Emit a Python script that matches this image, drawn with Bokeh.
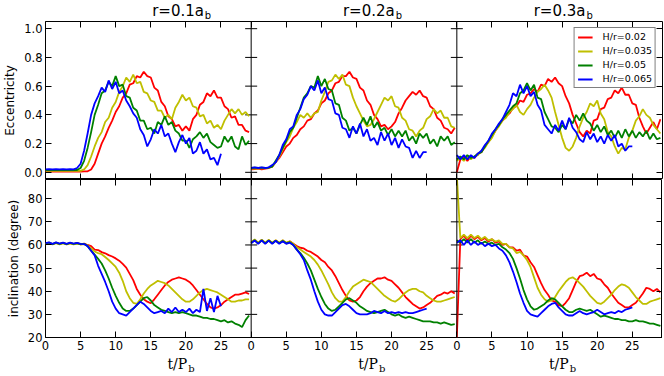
import numpy as np
from bokeh.plotting import figure
from bokeh.layouts import column
from bokeh.models import (Range1d, LinearAxis, FixedTicker, PrintfTickFormatter,
                          CustomJSTickFormatter, Label, Legend, LegendItem, Span)
from bokeh.embed import file_html
from bokeh.resources import INLINE

# ---------------- data ----------------
T = np.linspace(0, 29, 59)          # t / P_b, every 0.5

SERIES_LABELS = ["H/r=0.02", "H/r=0.035", "H/r=0.05", "H/r=0.065"]
SERIES_COLORS = ["#ff0000", "#bfbf00", "#008000", "#0000ff"]
RADII = ["r=0.1a", "r=0.2a", "r=0.3a"]
X_TICKS = [0, 5, 10, 15, 20, 25]
ECC_TICKS = [0.0, 0.2, 0.4, 0.6, 0.8, 1.0]
INC_TICKS = [20, 30, 40, 50, 60, 70, 80]

# eccentricity, r = 0.1 a_b
ecc_r1_h020 = [0.005, 0.006, 0.005, 0.006, 0.005, 0.006, 0.005, 0.006, 0.005, 0.006,
               0.005, 0.006, 0.007, 0.02, 0.06, 0.13, 0.20, 0.25, 0.31, 0.36,
               0.42, 0.46, 0.52, 0.55, 0.61, 0.62, 0.67, 0.66, 0.70, 0.67,
               0.66, 0.59, 0.57, 0.49, 0.46, 0.39, 0.37, 0.32, 0.33, 0.29,
               0.32, 0.29, 0.37, 0.40, 0.47, 0.49, 0.55, 0.53, 0.57, 0.52,
               0.52, 0.46, 0.44, 0.38, 0.39, 0.33, 0.33, 0.29, 0.28]
ecc_r1_h035 = [0.010, 0.011, 0.010, 0.011, 0.010, 0.011, 0.010, 0.011, 0.010, 0.011,
               0.010, 0.02, 0.05, 0.11, 0.18, 0.24, 0.28, 0.35, 0.38, 0.45,
               0.49, 0.56, 0.60, 0.66, 0.63, 0.68, 0.62, 0.63, 0.56, 0.55,
               0.50, 0.49, 0.43, 0.43, 0.38, 0.40, 0.37, 0.45, 0.49, 0.54,
               0.50, 0.52, 0.46, 0.45, 0.39, 0.40, 0.34, 0.36, 0.31, 0.33,
               0.30, 0.36, 0.40, 0.44, 0.41, 0.44, 0.40, 0.42, 0.39]
ecc_r1_h050 = [0.015, 0.016, 0.015, 0.016, 0.015, 0.016, 0.015, 0.016, 0.015, 0.016,
               0.03, 0.08, 0.17, 0.28, 0.40, 0.47, 0.55, 0.57, 0.63, 0.60,
               0.67, 0.60, 0.61, 0.53, 0.52, 0.45, 0.43, 0.36, 0.36, 0.30,
               0.31, 0.27, 0.35, 0.33, 0.39, 0.33, 0.35, 0.29, 0.27, 0.22,
               0.22, 0.17, 0.23, 0.25, 0.28, 0.24, 0.27, 0.21, 0.19, 0.17,
               0.18, 0.25, 0.21, 0.25, 0.18, 0.16, 0.25, 0.19, 0.22]
ecc_r1_h065 = [0.020, 0.022, 0.020, 0.022, 0.020, 0.022, 0.020, 0.022, 0.020, 0.03,
               0.06, 0.15, 0.27, 0.40, 0.48, 0.53, 0.59, 0.56, 0.64, 0.58,
               0.63, 0.55, 0.57, 0.50, 0.46, 0.41, 0.38, 0.30, 0.26, 0.18,
               0.23, 0.30, 0.27, 0.33, 0.25, 0.27, 0.20, 0.14, 0.21, 0.26,
               0.20, 0.24, 0.13, 0.15, 0.21, 0.13, 0.16, 0.09, 0.10, 0.05,
               0.13]

# eccentricity, r = 0.2 a_b
ecc_r2_h020 = [0.020, 0.022, 0.025, 0.020, 0.025, 0.030, 0.040, 0.07, 0.10, 0.14,
               0.18, 0.20, 0.24, 0.26, 0.30, 0.32, 0.36, 0.37, 0.41, 0.43,
               0.48, 0.50, 0.55, 0.57, 0.62, 0.63, 0.67, 0.67, 0.70, 0.66,
               0.65, 0.59, 0.57, 0.50, 0.47, 0.40, 0.37, 0.32, 0.33, 0.30,
               0.32, 0.35, 0.41, 0.45, 0.50, 0.53, 0.56, 0.54, 0.57, 0.53,
               0.52, 0.46, 0.44, 0.38, 0.36, 0.31, 0.30, 0.27, 0.31]
ecc_r2_h035 = [0.025, 0.027, 0.025, 0.030, 0.028, 0.032, 0.04, 0.07, 0.11, 0.16,
               0.21, 0.25, 0.31, 0.35, 0.40, 0.38, 0.41, 0.38, 0.41, 0.42,
               0.50, 0.56, 0.63, 0.64, 0.68, 0.65, 0.68, 0.61, 0.60, 0.52,
               0.46, 0.41, 0.36, 0.32, 0.33, 0.37, 0.42, 0.47, 0.52, 0.50,
               0.53, 0.46, 0.45, 0.38, 0.36, 0.30, 0.29, 0.25, 0.29, 0.31,
               0.37, 0.39, 0.44, 0.41, 0.43, 0.38, 0.38, 0.32, 0.31]
ecc_r2_h050 = [0.030, 0.032, 0.030, 0.033, 0.030, 0.033, 0.04, 0.08, 0.12, 0.17,
               0.22, 0.28, 0.31, 0.38, 0.45, 0.52, 0.55, 0.60, 0.59, 0.67,
               0.60, 0.65, 0.58, 0.57, 0.48, 0.47, 0.38, 0.36, 0.29, 0.31,
               0.27, 0.33, 0.38, 0.33, 0.39, 0.31, 0.35, 0.29, 0.31, 0.26,
               0.30, 0.25, 0.29, 0.25, 0.29, 0.22, 0.25, 0.20, 0.27, 0.24,
               0.27, 0.20, 0.23, 0.18, 0.25, 0.22, 0.25, 0.19, 0.21]
ecc_r2_h065 = [0.030, 0.034, 0.030, 0.034, 0.030, 0.035, 0.05, 0.07, 0.12, 0.19,
               0.23, 0.30, 0.32, 0.40, 0.44, 0.51, 0.54, 0.60, 0.57, 0.64,
               0.55, 0.59, 0.51, 0.50, 0.41, 0.40, 0.31, 0.30, 0.24, 0.32,
               0.27, 0.34, 0.25, 0.30, 0.22, 0.24, 0.19, 0.28, 0.22, 0.27,
               0.19, 0.24, 0.17, 0.23, 0.18, 0.17, 0.10, 0.15, 0.10, 0.14,
               0.14]

# eccentricity, r = 0.3 a_b
ecc_r3_h020 = [0.0, 0.09, 0.11, 0.08, 0.11, 0.10, 0.13, 0.14, 0.18, 0.21,
               0.25, 0.29, 0.33, 0.36, 0.39, 0.41, 0.45, 0.46, 0.50, 0.49,
               0.54, 0.55, 0.58, 0.56, 0.61, 0.60, 0.65, 0.63, 0.66, 0.62,
               0.60, 0.53, 0.48, 0.40, 0.34, 0.28, 0.25, 0.29, 0.27, 0.36,
               0.37, 0.44, 0.45, 0.51, 0.52, 0.57, 0.55, 0.59, 0.54, 0.54,
               0.48, 0.47, 0.38, 0.32, 0.27, 0.31, 0.35, 0.30, 0.37]
ecc_r3_h035 = [0.08, 0.10, 0.08, 0.11, 0.09, 0.11, 0.12, 0.15, 0.17, 0.21,
               0.24, 0.29, 0.32, 0.36, 0.38, 0.42, 0.44, 0.47, 0.42, 0.40,
               0.44, 0.47, 0.52, 0.56, 0.58, 0.61, 0.57, 0.52, 0.42, 0.33,
               0.24, 0.17, 0.15, 0.18, 0.24, 0.32, 0.38, 0.42, 0.48, 0.46,
               0.50, 0.41, 0.37, 0.28, 0.25, 0.18, 0.13, 0.17, 0.16, 0.24,
               0.29, 0.36, 0.39, 0.44, 0.40, 0.38, 0.33, 0.30, 0.27]
ecc_r3_h050 = [0.09, 0.11, 0.09, 0.12, 0.10, 0.11, 0.13, 0.14, 0.18, 0.22,
               0.26, 0.30, 0.33, 0.37, 0.40, 0.43, 0.46, 0.48, 0.55, 0.57,
               0.62, 0.57, 0.61, 0.52, 0.51, 0.42, 0.37, 0.32, 0.31, 0.28,
               0.33, 0.30, 0.37, 0.34, 0.40, 0.36, 0.41, 0.36, 0.34, 0.29,
               0.33, 0.28, 0.32, 0.26, 0.29, 0.24, 0.29, 0.24, 0.30, 0.25,
               0.29, 0.24, 0.28, 0.25, 0.29, 0.23, 0.27, 0.23, 0.24]
ecc_r3_h065 = [0.12, 0.09, 0.12, 0.09, 0.12, 0.10, 0.13, 0.15, 0.19, 0.22,
               0.27, 0.30, 0.34, 0.37, 0.42, 0.47, 0.55, 0.53, 0.61, 0.55,
               0.60, 0.53, 0.56, 0.47, 0.43, 0.33, 0.30, 0.27, 0.33, 0.29,
               0.36, 0.30, 0.38, 0.31, 0.28, 0.23, 0.21, 0.28, 0.23, 0.27,
               0.21, 0.25, 0.20, 0.26, 0.22, 0.26, 0.18, 0.20, 0.15, 0.18,
               0.18]

# inclination (degree), r = 0.1 a_b
inc_r1_h020 = [60.5, 60.9, 60.3, 60.9, 60.4, 60.9, 60.3, 60.8, 60.4, 60.8,
               60.3, 60.6, 60.0, 59.5, 58.0, 57.8, 56.9, 56.4, 55.6, 55.0,
               54.2, 53.2, 51.8, 50.2, 47.5, 44.8, 41.0, 38.5, 36.5, 35.5,
               34.8, 36.5, 38.5, 40.5, 42.5, 44.0, 45.0, 45.5, 46.0, 45.5,
               45.0, 44.0, 42.5, 40.5, 38.5, 36.5, 34.5, 33.0, 32.5, 33.0,
               34.0, 35.5, 36.5, 37.5, 38.5, 38.5, 39.0, 39.5, 38.8]
inc_r1_h035 = [60.3, 60.8, 60.2, 60.8, 60.3, 60.7, 60.2, 60.7, 60.3, 60.6,
               60.2, 60.4, 59.8, 58.5, 57.2, 56.5, 56.0, 54.8, 53.5, 52.0,
               50.5, 48.0, 44.5, 40.0, 37.0, 35.0, 34.5, 36.5, 39.0, 41.0,
               42.5, 43.5, 44.5, 44.0, 43.5, 42.5, 41.0, 39.5, 38.0, 36.5,
               35.5, 35.5, 36.5, 38.0, 39.5, 40.5, 41.0, 40.5, 40.0, 39.5,
               38.5, 37.5, 36.5, 35.5, 35.5, 36.0, 36.0, 36.5, 36.5]
inc_r1_h050 = [60.6, 61.0, 60.4, 61.0, 60.5, 60.9, 60.4, 60.9, 60.5, 60.8,
               60.4, 60.5, 59.5, 57.5, 55.8, 54.0, 52.0, 49.0, 45.5, 41.5,
               38.0, 35.0, 32.5, 31.5, 31.5, 32.5, 34.0, 35.5, 37.0, 37.5,
               36.0, 34.0, 33.0, 32.0, 31.5, 31.0, 30.5, 31.0, 30.5, 31.0,
               30.5, 30.0, 29.5, 29.5, 29.0, 28.5, 28.5, 28.0, 28.0, 27.5,
               27.0, 27.5, 26.5, 27.0, 26.0, 25.5, 24.5, 27.5, 29.5]
inc_r1_h065 = [60.8, 61.1, 60.5, 61.1, 60.6, 61.0, 60.5, 61.0, 60.6, 60.9,
               60.5, 60.4, 59.5, 57.5, 55.5, 51.0, 47.5, 44.0, 40.0, 35.5,
               32.5, 30.5, 30.0, 29.5, 31.0, 32.5, 34.0, 35.5, 34.5, 33.0,
               31.5, 30.5, 31.0, 31.5, 30.5, 32.5, 31.0, 33.0, 31.0, 32.0,
               31.0, 32.5, 30.5, 32.0, 31.0, 41.0, 31.5, 37.0, 31.0, 38.0,
               33.5]

# inclination (degree), r = 0.2 a_b
inc_r2_h020 = [61.0, 62.2, 60.8, 62.2, 60.8, 62.1, 60.8, 62.0, 60.8, 61.9,
               60.8, 61.6, 60.5, 59.5, 58.8, 58.5, 57.5, 57.0, 56.0, 55.0,
               53.5, 52.5, 50.5, 49.0, 46.5, 43.5, 40.5, 38.0, 36.0, 35.5,
               36.0, 37.5, 40.0, 42.0, 43.5, 44.5, 45.5, 45.5, 46.0, 45.0,
               44.5, 43.0, 41.5, 39.5, 37.5, 36.0, 34.5, 33.5, 32.5, 33.0,
               34.0, 35.0, 36.5, 38.0, 38.5, 39.5, 39.0, 40.0, 39.0]
inc_r2_h035 = [61.2, 62.4, 61.0, 62.3, 61.0, 62.2, 61.0, 62.1, 61.0, 62.0,
               61.0, 61.5, 60.5, 59.0, 58.0, 57.0, 56.0, 55.0, 53.5, 51.5,
               49.0, 46.0, 43.0, 39.5, 37.0, 35.5, 35.5, 37.5, 40.0, 42.0,
               43.0, 44.0, 45.0, 44.5, 44.0, 42.5, 41.0, 39.5, 38.0, 37.0,
               36.0, 35.5, 36.5, 38.0, 39.5, 40.5, 41.0, 41.0, 40.0, 39.5,
               38.0, 37.0, 36.0, 35.5, 35.5, 36.0, 36.5, 37.0, 37.5]
inc_r2_h050 = [60.9, 62.0, 60.7, 62.0, 60.7, 61.9, 60.7, 61.8, 60.7, 61.7,
               60.7, 61.2, 60.0, 58.0, 56.5, 54.5, 52.0, 49.0, 45.0, 41.0,
               37.5, 34.5, 32.5, 31.5, 32.0, 33.5, 35.0, 36.5, 37.0, 36.0,
               35.0, 33.5, 32.5, 31.5, 31.0, 30.5, 31.0, 31.5, 32.0, 31.0,
               30.0, 29.5, 30.0, 29.0, 28.5, 29.0, 28.5, 28.0, 27.5, 27.0,
               27.0, 27.0, 26.5, 26.5, 26.0, 26.5, 26.0, 25.5, 25.8]
inc_r2_h065 = [60.7, 62.0, 60.5, 62.0, 60.5, 61.9, 60.5, 61.8, 60.5, 61.6,
               60.5, 61.0, 60.0, 58.0, 56.0, 53.5, 49.0, 45.0, 40.0, 35.5,
               32.0, 30.0, 29.5, 29.5, 31.0, 32.5, 34.0, 34.5, 33.5, 32.0,
               30.5, 30.0, 30.0, 30.0, 30.5, 31.5, 31.0, 30.5, 31.5, 30.5,
               31.0, 30.5, 31.0, 30.5, 31.0, 30.5, 30.5, 31.0, 31.5, 32.0,
               32.5]

# inclination (degree), r = 0.3 a_b
inc_r3_h020 = [20.0, 62.5, 64.0, 62.0, 64.0, 62.5, 63.5, 62.0, 63.0, 61.5,
               62.5, 61.0, 61.5, 60.0, 60.5, 59.0, 59.0, 57.5, 58.0, 55.5,
               55.0, 52.5, 50.5, 47.0, 43.5, 40.5, 38.5, 36.0, 35.5, 34.0,
               33.5, 35.0, 37.0, 40.5, 44.0, 46.5, 47.0, 48.0, 46.5, 47.5,
               45.5, 45.0, 43.0, 41.5, 39.0, 37.0, 35.0, 34.0, 33.0, 33.0,
               34.0, 35.0, 37.0, 39.0, 41.5, 41.0, 40.0, 41.0, 39.5]
inc_r3_h035 = [90.0, 63.0, 64.5, 63.0, 64.5, 63.0, 64.0, 62.5, 63.5, 62.0,
               62.5, 61.5, 62.0, 60.5, 60.5, 59.0, 58.5, 56.5, 57.0, 55.5,
               53.5, 50.5, 46.0, 41.5, 38.5, 36.5, 35.5, 36.0, 37.5, 40.0,
               42.0, 44.0, 45.5, 46.0, 45.0, 43.5, 42.0, 40.0, 38.0, 36.5,
               35.0, 34.5, 35.5, 37.0, 38.5, 40.5, 42.0, 43.0, 42.5, 41.5,
               39.5, 37.5, 36.0, 34.5, 34.5, 35.5, 36.0, 36.5, 37.0]
inc_r3_h050 = [62.0, 61.0, 62.5, 61.0, 62.5, 61.0, 62.0, 60.5, 61.5, 60.5,
               61.0, 60.0, 60.5, 59.0, 58.0, 56.5, 54.0, 50.0, 45.5, 40.5,
               36.5, 33.5, 32.0, 32.5, 33.5, 34.5, 36.0, 37.0, 36.5, 35.0,
               33.5, 32.0, 31.0, 31.0, 32.0, 32.5, 32.0, 31.5, 32.0, 31.0,
               30.0, 29.0, 29.5, 29.0, 28.5, 28.0, 28.0, 27.5, 27.5, 27.0,
               27.0, 27.5, 27.0, 27.0, 26.5, 26.0, 26.0, 25.5, 25.0]
inc_r3_h065 = [61.0, 62.0, 60.0, 62.0, 60.0, 61.5, 60.0, 61.0, 59.5, 60.5,
               59.5, 60.0, 58.5, 57.5, 55.5, 52.5, 48.5, 44.0, 39.0, 35.0,
               31.5, 30.0, 29.5, 29.0, 30.5, 32.0, 33.5, 34.5, 35.0, 33.0,
               31.5, 30.0, 29.5, 29.5, 30.5, 31.5, 30.5, 30.0, 30.5, 31.0,
               32.0, 31.0, 30.0, 30.5, 31.0, 30.5, 31.5, 31.0, 32.0, 32.5,
               33.0]

ECC = [[ecc_r1_h020, ecc_r1_h035, ecc_r1_h050, ecc_r1_h065],
       [ecc_r2_h020, ecc_r2_h035, ecc_r2_h050, ecc_r2_h065],
       [ecc_r3_h020, ecc_r3_h035, ecc_r3_h050, ecc_r3_h065]]
INC = [[inc_r1_h020, inc_r1_h035, inc_r1_h050, inc_r1_h065],
       [inc_r2_h020, inc_r2_h035, inc_r2_h050, inc_r2_h065],
       [inc_r3_h020, inc_r3_h035, inc_r3_h050, inc_r3_h065]]

# ---------------- layout ----------------
XSPAN = 29.3                         # width of one panel in t/P_b
OFFS = [0.0, XSPAN, 2 * XSPAN]       # the three radii share one row, side by side
XMAX = 3 * XSPAN
FW, FH = 617, 158                    # whole-row frame, one panel row height
LEFT, RIGHT = 42, 3
TOTAL_W = LEFT + FW + RIGHT
TITLE_H, XLABEL_H, TICKS_H = 21, 19, 18
PX_X = XMAX / FW                     # data units per pixel along x
FONT = "DejaVu Sans"
TICK_FONT_SIZE = "11.5px"
TICK_LEN = 6

ALL_X_TICKS = [off + t for off in OFFS for t in X_TICKS]
x_fmt_code = """
const k = Math.floor((tick + 1e-6) / W);
return Math.round(tick - k * W).toString();
"""


def style_axis(ax, ticks, show, fmt=None):
    ax.ticker = FixedTicker(ticks=ticks)
    ax.major_tick_in = TICK_LEN
    ax.major_tick_out = 0
    ax.major_tick_line_color = "black"
    ax.major_tick_line_width = 1
    ax.minor_tick_line_color = None
    ax.axis_line_color = None
    if fmt is not None:
        ax.formatter = fmt
    ax.major_label_text_font = FONT
    ax.major_label_text_font_size = TICK_FONT_SIZE
    if show:
        ax.major_label_text_color = "black"
        ax.major_label_standoff = 3
    else:
        ax.major_label_text_color = None
        ax.major_label_standoff = 0


def make_row(ri, data_by_col):
    if ri == 0:
        y0, y1 = -0.05, 1.05
        yticks = ECC_TICKS
        fmt = PrintfTickFormatter(format="%.1f")
        ylabel = "Eccentricity"
    else:
        y0, y1 = 20, 88.3
        yticks = INC_TICKS
        fmt = PrintfTickFormatter(format="%d")
        ylabel = "inclination (degree)"
    p = figure(frame_width=FW, frame_height=FH, title=None,
               x_range=Range1d(0, XMAX), y_range=Range1d(y0, y1),
               output_backend="svg", toolbar_location=None,
               min_border_left=LEFT, min_border_right=RIGHT,
               min_border_top=0,
               min_border_bottom=TICKS_H if ri == 1 else 0,
               background_fill_color="white", border_fill_color="white")
    p.xgrid.visible = False
    p.ygrid.visible = False
    p.outline_line_color = "black"
    p.outline_line_width = 1
    p.add_layout(LinearAxis(), "above")
    p.add_layout(LinearAxis(), "right")
    xfmt = CustomJSTickFormatter(args=dict(W=XSPAN), code=x_fmt_code)
    style_axis(p.below[0], ALL_X_TICKS, ri == 1, xfmt)
    style_axis(p.above[0], ALL_X_TICKS, False)
    style_axis(p.left[0], yticks, True, fmt)
    style_axis(p.right[0], yticks, False)
    ax = p.left[0]
    ax.axis_label = ylabel
    ax.axis_label_text_font = FONT
    ax.axis_label_text_font_size = "12px"
    ax.axis_label_text_font_style = "normal"
    ax.axis_label_text_color = "black"
    ax.axis_label_standoff = 4

    # panel separators with inward ticks on both sides
    for off in OFFS[1:]:
        p.add_layout(Span(location=off, dimension="height", line_color="black", line_width=1))
        p.segment(x0=[off - TICK_LEN * PX_X] * len(yticks), x1=[off + TICK_LEN * PX_X] * len(yticks),
                  y0=yticks, y1=yticks, line_color="black", line_width=1)

    legend_renderers = []
    for ci, series in enumerate(data_by_col):
        off = OFFS[ci]
        for k, vals in enumerate(series):
            n = len(vals)
            r = p.line(T[:n] + off, vals, line_color=SERIES_COLORS[k], line_width=1.8)
            if ci == 2:
                legend_renderers.append(r)

    if ri == 0:
        items = [LegendItem(label=SERIES_LABELS[k], renderers=[legend_renderers[k]])
                 for k in range(4)]
        leg = Legend(items=items, location="top_right", margin=6, padding=3,
                     spacing=3, glyph_width=15, glyph_height=10, label_height=10,
                     label_standoff=10, label_text_font=FONT,
                     label_text_font_size="9.5px", label_text_color="black",
                     border_line_color="black",
                     border_line_width=1, background_fill_color="white",
                     background_fill_alpha=1.0)
        p.add_layout(leg)
    return p


def make_strip(height):
    s = figure(width=TOTAL_W, height=height, title=None,
               x_range=Range1d(0, TOTAL_W), y_range=Range1d(0, height),
               output_backend="svg", toolbar_location=None,
               x_axis_location=None, y_axis_location=None,
               min_border_left=0, min_border_right=0,
               min_border_top=0, min_border_bottom=0,
               background_fill_color="white", border_fill_color="white")
    s.xgrid.visible = False
    s.ygrid.visible = False
    s.outline_line_color = None
    return s


# pixel centres of the three panels
centres = [LEFT + (ci + 0.5) * FW / 3 for ci in range(3)]

title_strip = make_strip(TITLE_H)
for ci in range(3):
    title_strip.add_layout(Label(x=centres[ci] + 26, y=2.0, text=RADII[ci],
                                 text_align="right", text_baseline="bottom",
                                 text_font=FONT, text_font_size="15px", text_color="black"))
    title_strip.add_layout(Label(x=centres[ci] + 27, y=0.6, text="b",
                                 text_align="left", text_baseline="bottom",
                                 text_font=FONT, text_font_size="10px", text_color="black"))

xlabel_strip = make_strip(XLABEL_H)
for ci in range(3):
    xlabel_strip.add_layout(Label(x=centres[ci] + 8, y=2.5, text="t/P",
                                  text_align="right", text_baseline="bottom",
                                  text_font="DejaVu Serif", text_font_size="14px",
                                  text_color="black"))
    xlabel_strip.add_layout(Label(x=centres[ci] + 9, y=0.4, text="b",
                                  text_align="left", text_baseline="bottom",
                                  text_font="DejaVu Serif", text_font_size="10px",
                                  text_color="black"))

top = make_row(0, ECC)
bottom = make_row(1, INC)
layout = column(title_strip, top, bottom, xlabel_strip, spacing=0)

open("out.html", "w").write(file_html(layout, INLINE, title="Eccentricity and inclination"))
